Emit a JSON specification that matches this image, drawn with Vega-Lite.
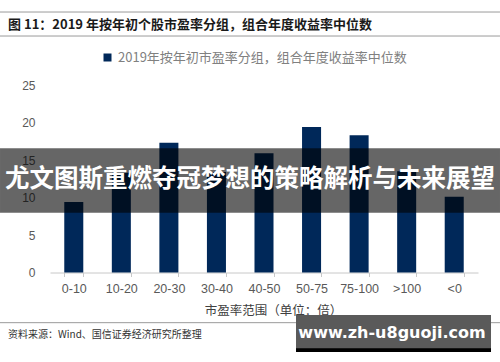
{
  "$schema": "https://vega.github.io/schema/vega-lite/v6.json",
  "width": 428,
  "height": 187.5,
  "autosize": "none",
  "padding": {"left": 50, "top": 85, "right": 22, "bottom": 89.5},
  "background": "white",
  "config": {
    "view": {"stroke": null},
    "font": "Noto Sans CJK SC"
  },
  "datasets": {
    "bars": [
      {"range": "0-10", "value": 9.4},
      {"range": "10-20", "value": 13.3},
      {"range": "20-30", "value": 17.3},
      {"range": "30-40", "value": 13.4},
      {"range": "40-50", "value": 15.9},
      {"range": "50-75", "value": 19.4},
      {"range": "75-100", "value": 18.3},
      {"range": ">100", "value": 13.5},
      {"range": "<0", "value": 10.1}
    ],
    "one": [{"k": 1}]
  },
  "resolve": {"scale": {"x": "independent", "y": "independent"}},
  "layer": [
    {
      "data": {"name": "bars"},
      "mark": {"type": "bar"},
      "encoding": {
        "x": {
          "field": "range",
          "type": "nominal",
          "sort": null,
          "scale": {"paddingInner": 0.6, "paddingOuter": 0.3},
          "axis": {
            "title": "市盈率范围（单位：倍）",
            "titleFont": "Noto Sans CJK SC",
            "titleFontSize": 12.5,
            "titleFontWeight": "normal",
            "titleColor": "#404040",
            "titlePadding": 9,
            "titleX": 223,
            "labelAngle": 0,
            "labelFont": "Liberation Sans",
            "labelFontSize": 12.5,
            "labelColor": "#595959",
            "labelPadding": 6,
            "tickBand": "extent",
            "tickSize": 4,
            "tickColor": "#c8c8c8",
            "domainColor": "#c8c8c8",
            "grid": false
          }
        },
        "y": {
          "field": "value",
          "type": "quantitative",
          "scale": {"domain": [0, 25], "nice": false},
          "axis": {
            "title": null,
            "values": [0, 5, 10, 15, 20, 25],
            "grid": false,
            "domain": false,
            "ticks": false,
            "labelFont": "Liberation Sans",
            "labelFontSize": 12,
            "labelColor": "#595959",
            "labelPadding": 15
          }
        },
        "color": {
          "datum": "2019年按年初市盈率分组，组合年度收益率中位数",
          "type": "nominal",
          "scale": {"range": ["#002859"]},
          "legend": {
            "title": null,
            "orient": "none",
            "legendX": 51,
            "legendY": -34,
            "padding": 0,
            "symbolType": "square",
            "symbolSize": 64,
            "symbolStrokeWidth": 0,
            "labelOffset": 4,
            "labelFont": "Noto Sans CJK SC",
            "labelFontSize": 13,
            "labelColor": "#808080",
            "labelLimit": 400
          }
        }
      }
    },
    {
      "data": {"name": "one"},
      "mark": {"type": "rule", "color": "#9a9a9a", "strokeWidth": 1},
      "encoding": {
        "x": {"datum": -0.1168, "type": "quantitative", "scale": {"domain": [0, 1]}, "axis": null},
        "x2": {"datum": 1.0514},
        "y": {"datum": 34.73, "type": "quantitative", "scale": {"domain": [0, 25], "nice": false}, "axis": null}
      }
    },
    {
      "data": {"name": "one"},
      "mark": {"type": "rule", "color": "#9a9a9a", "strokeWidth": 1},
      "encoding": {
        "x": {"datum": -0.1168, "type": "quantitative", "scale": {"domain": [0, 1]}, "axis": null},
        "x2": {"datum": 1.0514},
        "y": {"datum": 31.53, "type": "quantitative", "scale": {"domain": [0, 25], "nice": false}, "axis": null}
      }
    },
    {
      "data": {"name": "one"},
      "mark": {"type": "text", "align": "left", "baseline": "middle", "fontWeight": "bold", "fontSize": 13, "color": "#1a1a1a", "font": "Noto Sans CJK SC"},
      "encoding": {
        "x": {"datum": -0.0981, "type": "quantitative", "scale": {"domain": [0, 1]}, "axis": null},
        "y": {"datum": 33.0, "type": "quantitative", "scale": {"domain": [0, 25], "nice": false}, "axis": null},
        "text": {"value": "图  11：2019 年按年初个股市盈率分组，组合年度收益率中位数"}
      }
    },
    {
      "data": {"name": "one"},
      "mark": {"type": "rule", "color": "#9a9a9a", "strokeWidth": 1},
      "encoding": {
        "x": {"datum": -0.1168, "type": "quantitative", "scale": {"domain": [0, 1]}, "axis": null},
        "x2": {"datum": 1.0514},
        "y": {"datum": -6.69, "type": "quantitative", "scale": {"domain": [0, 25], "nice": false}, "axis": null}
      }
    },
    {
      "data": {"name": "one"},
      "mark": {"type": "text", "align": "left", "baseline": "middle", "fontSize": 10, "color": "#333333", "font": "Noto Sans CJK SC"},
      "encoding": {
        "x": {"datum": -0.0981, "type": "quantitative", "scale": {"domain": [0, 1]}, "axis": null},
        "y": {"datum": -8.33, "type": "quantitative", "scale": {"domain": [0, 25], "nice": false}, "axis": null},
        "text": {"value": "资料来源：Wind、国信证券经济研究所整理"}
      }
    },
    {
      "data": {"name": "one"},
      "mark": {"type": "rect", "fill": "#000000", "fillOpacity": 0.6},
      "encoding": {
        "x": {"datum": -0.1168, "type": "quantitative", "scale": {"domain": [0, 1]}, "axis": null},
        "x2": {"datum": 1.0514},
        "y": {"datum": 16.56, "type": "quantitative", "scale": {"domain": [0, 25], "nice": false}, "axis": null},
        "y2": {"datum": 7.97}
      }
    },
    {
      "data": {"name": "one"},
      "mark": {"type": "text", "align": "center", "baseline": "middle", "fontWeight": "bold", "fontSize": 24.5, "color": "#ffffff", "font": "Noto Sans CJK SC"},
      "encoding": {
        "x": {"datum": 0.4673, "type": "quantitative", "scale": {"domain": [0, 1]}, "axis": null},
        "y": {"datum": 12.27, "type": "quantitative", "scale": {"domain": [0, 25], "nice": false}, "axis": null},
        "text": {"value": "尤文图斯重燃夺冠梦想的策略解析与未来展望"}
      }
    },
    {
      "data": {"name": "one"},
      "mark": {"type": "rect", "color": "#000000"},
      "encoding": {
        "x": {"datum": 0.5748, "type": "quantitative", "scale": {"domain": [0, 1]}, "axis": null},
        "x2": {"datum": 1.0304},
        "y": {"datum": -10.0, "type": "quantitative", "scale": {"domain": [0, 25], "nice": false}, "axis": null},
        "y2": {"datum": -10.6}
      }
    },
    {
      "data": {"name": "one"},
      "mark": {"type": "rect", "color": "#5a5a5a"},
      "encoding": {
        "x": {"datum": 0.5748, "type": "quantitative", "scale": {"domain": [0, 1]}, "axis": null},
        "x2": {"datum": 1.0304},
        "y": {"datum": -5.67, "type": "quantitative", "scale": {"domain": [0, 25], "nice": false}, "axis": null},
        "y2": {"datum": -10.1}
      }
    },
    {
      "data": {"name": "one"},
      "mark": {"type": "text", "align": "center", "baseline": "middle", "fontWeight": "bold", "fontSize": 16, "color": "#ffffff", "font": "DejaVu Sans"},
      "encoding": {
        "x": {"datum": 0.7991, "type": "quantitative", "scale": {"domain": [0, 1]}, "axis": null},
        "y": {"datum": -8.07, "type": "quantitative", "scale": {"domain": [0, 25], "nice": false}, "axis": null},
        "text": {"value": "www.zh-u8guoji.com"}
      }
    }
  ]
}
